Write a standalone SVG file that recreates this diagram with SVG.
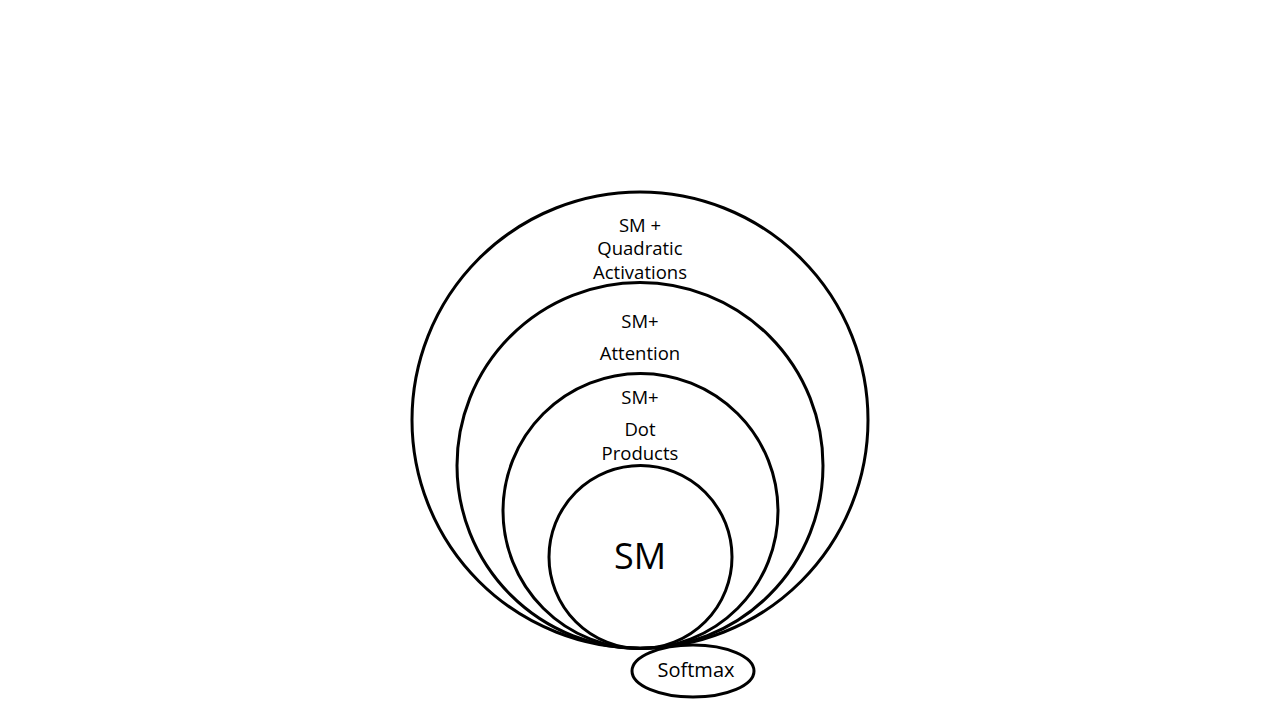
<svg xmlns="http://www.w3.org/2000/svg" width="1280" height="720" viewBox="0 0 1280 720">
<style>
.c{fill:none;stroke:#000;stroke-width:3}
.t{font-family:"Open Sans","Noto Sans",sans-serif;font-size:18.5px;fill:#000;text-anchor:middle}
</style>
<rect width="1280" height="720" fill="#fff"/>
<g id="quadratic"><circle class="c" cx="640" cy="420" r="228"/>
<text class="t" x="640" y="232">SM +</text><text class="t" x="640" y="255">Quadratic</text><text class="t" x="640" y="279">Activations</text></g>
<g id="attention"><circle class="c" cx="640" cy="465.5" r="183"/>
<text class="t" x="640" y="328">SM+</text><text class="t" x="640" y="360">Attention</text></g>
<g id="dot"><circle class="c" cx="640.5" cy="511" r="137.5"/>
<text class="t" x="640" y="404">SM+</text><text class="t" x="640" y="436">Dot</text><text class="t" x="640" y="460">Products</text></g>
<g id="sm"><circle class="c" cx="640.5" cy="557" r="91.5"/>
<text class="t" x="640" y="569" style="font-size:36px">SM</text></g>
<g id="softmax"><ellipse class="c" cx="693" cy="671" rx="61" ry="26"/>
<text class="t" x="696" y="677" style="font-size:20px">Softmax</text></g>
<g id="connectors"/>
</svg>
